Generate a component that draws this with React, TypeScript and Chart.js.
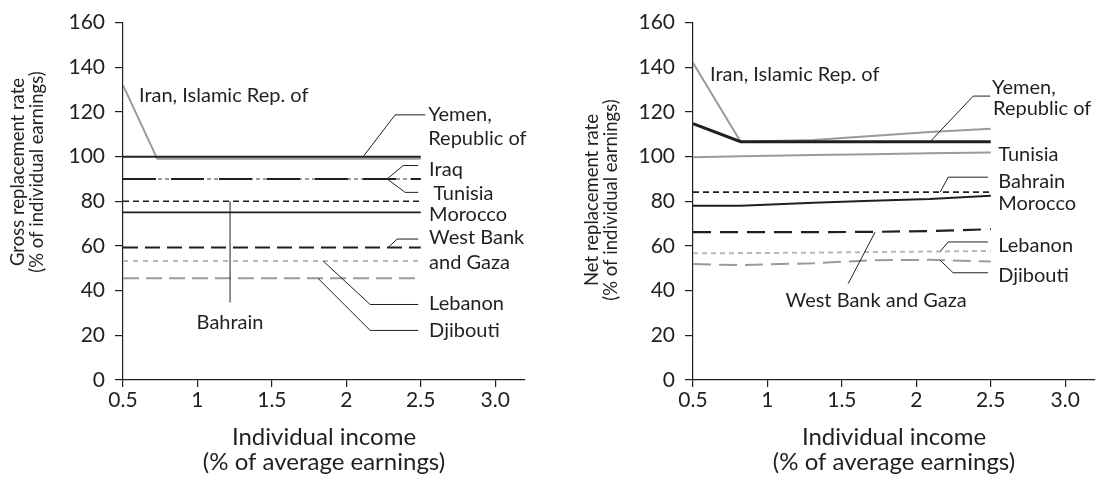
import React, { useEffect, useRef } from 'react';
import { Chart, registerables } from 'chart.js';

Chart.register(...registerables);

const FONT = 'Lato, "Open Sans", sans-serif';
const INK = '#231f20';
const GRAY = '#9a9a9a';
const LIGHT = '#b8b8b8';

// ---------- shared axis data ----------
const xTicks = [0.5, 1, 1.5, 2, 2.5, 3.0];
const xTickLabels = ['0.5', '1', '1.5', '2', '2.5', '3.0'];
const yTicks = [0, 20, 40, 60, 80, 100, 120, 140, 160];

// ---------- gross replacement rate (left) ----------
const grossIncome = [0.5, 0.73, 1, 1.5, 2, 2.5];
const grossIran = [132, 99, 99, 99, 99, 99];
const grossYemen = [100, 100, 100, 100, 100, 100];
const grossIraq = [90, 90, 90, 90, 90, 90];
const grossTunisia = [90, 90, 90, 90, 90, 90];
const grossBahrain = [80, 80, 80, 80, 80, 80];
const grossMorocco = [75, 75, 75, 75, 75, 75];
const grossWestBank = [59.3, 59.3, 59.3, 59.3, 59.3, 59.3];
const grossLebanon = [53.3, 53.3, 53.3, 53.3, 53.3, 53.3];
const grossDjibouti = [45.5, 45.5, 45.5, 45.5, 45.5, 45.5];

// ---------- net replacement rate (right) ----------
const netIncome = [0.5, 0.82, 1.31, 1.7, 2.09, 2.5];
const netIran = [142, 106.7, 107.4, 109.2, 111, 112.5];
const netYemen = [114.8, 106.7, 106.7, 106.7, 106.7, 106.7];
const netTunisia = [99.7, 100.2, 100.7, 101.1, 101.5, 101.9];
const netBahrain = [84.1, 84.1, 84.1, 84.1, 84.1, 84.1];
const netMorocco = [78, 78, 79.3, 80.3, 81, 82.5];
const netWestBank = [66.2, 66.2, 66.2, 66.3, 66.7, 67.5];
const netLebanon = [56.7, 56.8, 57, 57.3, 57.5, 57.8];
const netDjibouti = [51.9, 51.4, 52.3, 53.6, 53.8, 53];

type Series = { data: number[]; color: string; width: number; dash?: number[]; order?: number };
type Label = { text: string; x: number; y: number; align?: CanvasTextAlign };

const grossSeries: Series[] = [
  { data: grossYemen, color: INK, width: 2, order: 1 },
  { data: grossIran, color: GRAY, width: 2, order: 2 },
  { data: grossIraq, color: INK, width: 2, dash: [33, 15], order: 1 },
  { data: grossTunisia, color: GRAY, width: 2, dash: [4, 3], order: 2 },
  { data: grossBahrain, color: INK, width: 1.6, dash: [6, 4], order: 1 },
  { data: grossMorocco, color: INK, width: 1.8, order: 1 },
  { data: grossWestBank, color: INK, width: 2, dash: [15, 7], order: 1 },
  { data: grossLebanon, color: LIGHT, width: 2, dash: [5, 5], order: 2 },
  { data: grossDjibouti, color: GRAY, width: 2, dash: [16, 7], order: 2 },
];

const netSeries: Series[] = [
  { data: netYemen, color: INK, width: 3, order: 1 },
  { data: netIran, color: GRAY, width: 2, order: 2 },
  { data: netTunisia, color: GRAY, width: 2, order: 2 },
  { data: netBahrain, color: INK, width: 1.8, dash: [6, 4], order: 1 },
  { data: netMorocco, color: INK, width: 2, order: 1 },
  { data: netWestBank, color: INK, width: 2.2, dash: [18, 9], order: 1 },
  { data: netLebanon, color: LIGHT, width: 2, dash: [5, 4], order: 2 },
  { data: netDjibouti, color: GRAY, width: 2, dash: [18, 8], order: 2 },
];

// annotation labels & leaders, in data units
const grossLabels: Label[] = [
  { text: 'Iran, Islamic Rep. of', x: 0.607, y: 127.5 },
  { text: 'Yemen,', x: 2.55, y: 118.7 },
  { text: 'Republic of', x: 2.55, y: 108 },
  { text: 'Iraq', x: 2.556, y: 94.2 },
  { text: 'Tunisia', x: 2.583, y: 83.6 },
  { text: 'Morocco', x: 2.556, y: 74.2 },
  { text: 'West Bank', x: 2.556, y: 63.6 },
  { text: 'and Gaza', x: 2.556, y: 52.4 },
  { text: 'Lebanon', x: 2.556, y: 34.2 },
  { text: 'Djibouti', x: 2.556, y: 22.2 },
  { text: 'Bahrain', x: 1.219, y: 25.8, align: 'center' },
];
const grossLeaders: number[][][] = [
  [[2.113, 100], [2.328, 118.7], [2.53, 118.7]],
  [[2.274, 90], [2.382, 96], [2.483, 96]],
  [[2.274, 90], [2.395, 84], [2.483, 84]],
  [[2.281, 59.3], [2.341, 63.1], [2.483, 63.1]],
  [[1.844, 53.3], [2.16, 33.8], [2.483, 33.8]],
  [[1.81, 45.5], [2.16, 22.2], [2.483, 22.2]],
  [[1.219, 80], [1.219, 34.7]],
];

const netLabels: Label[] = [
  { text: 'Iran, Islamic Rep. of', x: 0.614, y: 136.6 },
  { text: 'Yemen,', x: 2.509, y: 131.1 },
  { text: 'Republic of', x: 2.515, y: 121.3 },
  { text: 'Tunisia', x: 2.55, y: 100.9 },
  { text: 'Bahrain', x: 2.55, y: 88.9 },
  { text: 'Morocco', x: 2.55, y: 79.2 },
  { text: 'Lebanon', x: 2.55, y: 60 },
  { text: 'Djibouti', x: 2.55, y: 46.7 },
  { text: 'West Bank and Gaza', x: 1.73, y: 35.6, align: 'center' },
];
const netLeaders: number[][][] = [
  [[2.093, 106.7], [2.382, 127.1], [2.496, 127.1]],
  [[2.16, 84.1], [2.214, 90.8], [2.482, 90.8]],
  [[2.16, 57.5], [2.214, 61.8], [2.482, 61.8]],
  [[2.16, 53.6], [2.247, 48], [2.482, 48]],
  [[1.723, 66.2], [1.542, 43.1]],
];

const yTitleGross = ['Gross replacement rate', '(% of individual earnings)'];
const yTitleNet = ['Net replacement rate', '(% of individual earnings)'];
const xTitle = ['Individual income', '(% of average earnings)'];

type PanelProps = {
  left: number;
  width: number;
  axisLeft: number;
  income: number[];
  series: Series[];
  labels: Label[];
  leaders: number[][][];
  yTitle: string[];
  yTitleX: number[];
  yTitleCY: number;
};

function Panel(p: PanelProps) {
  const ref = useRef<HTMLCanvasElement>(null);
  useEffect(() => {
    if (!ref.current) return;
    const plotRight = p.axisLeft + 402;
    const annot = {
      id: 'annot',
      afterDraw(chart: any) {
        const { ctx, chartArea } = chart;
        const xs = chart.scales.x;
        const ys = chart.scales.y;
        ctx.save();
        ctx.strokeStyle = INK;
        ctx.lineWidth = 1;
        ctx.setLineDash([]);
        p.leaders.forEach((pts) => {
          ctx.beginPath();
          pts.forEach(([vx, vy], i) => {
            const px = xs.getPixelForValue(vx);
            const py = ys.getPixelForValue(vy);
            if (i === 0) ctx.moveTo(px, py);
            else ctx.lineTo(px, py);
          });
          ctx.stroke();
        });
        ctx.fillStyle = INK;
        ctx.font = `20px ${FONT}`;
        ctx.textBaseline = 'middle';
        p.labels.forEach((l) => {
          ctx.textAlign = l.align || 'left';
          ctx.fillText(l.text, xs.getPixelForValue(l.x), ys.getPixelForValue(l.y));
        });
        // y title
        ctx.font = `18.5px ${FONT}`;
        ctx.textAlign = 'center';
        p.yTitle.forEach((t, i) => {
          ctx.save();
          ctx.translate(p.yTitleX[i], p.yTitleCY);
          ctx.rotate(-Math.PI / 2);
          ctx.fillText(t, 0, 0);
          ctx.restore();
        });
        // x title
        ctx.font = `24px ${FONT}`;
        const cx = (chartArea.left + chartArea.right) / 2;
        ctx.fillText(xTitle[0], cx, chartArea.bottom + 57);
        ctx.fillText(xTitle[1], cx, chartArea.bottom + 82);
        ctx.restore();
      },
    };
    const chart = new Chart(ref.current, {
      type: 'line',
      data: {
        datasets: p.series.map((s) => ({
          data: p.income.map((x, i) => ({ x, y: s.data[i] })),
          borderColor: s.color,
          borderWidth: s.width,
          borderDash: s.dash || [],
          pointRadius: 0,
          fill: false,
          tension: 0,
          order: s.order || 1,
        })),
      },
      options: {
        responsive: false,
        animation: false,
        layout: { padding: { left: 0, top: 20, right: p.width - plotRight, bottom: 0 } },
        plugins: { legend: { display: false }, tooltip: { enabled: false } },
        scales: {
          x: {
            type: 'linear',
            min: 0.5,
            max: 3.2,
            afterBuildTicks: (s: any) => {
              s.ticks = xTicks.map((v) => ({ value: v }));
            },
            afterFit: (s: any) => {
              s.height = 97;
            },
            ticks: {
              autoSkip: false,
              maxRotation: 0,
              padding: 1,
              color: INK,
              font: { family: FONT, size: 21 },
              callback: (v: any) => xTickLabels[xTicks.indexOf(Number(v))] ?? '',
            },
            grid: { display: true, drawOnChartArea: false, drawTicks: true, tickLength: 7, color: INK, lineWidth: 1.2 },
            border: { display: true, color: INK, width: 1.2 },
          },
          y: {
            type: 'linear',
            min: 0,
            max: 160,
            afterBuildTicks: (s: any) => {
              s.ticks = yTicks.map((v) => ({ value: v }));
            },
            afterFit: (s: any) => {
              s.width = p.axisLeft;
            },
            ticks: {
              padding: 10,
              color: INK,
              font: { family: FONT, size: 21 },
            },
            grid: { display: true, drawOnChartArea: false, drawTicks: true, tickLength: 8, color: INK, lineWidth: 1.2 },
            border: { display: true, color: INK, width: 1.2 },
          },
        },
      },
      plugins: [annot],
    } as any);
    return () => chart.destroy();
  }, []);
  return (
    <canvas
      ref={ref}
      width={p.width}
      height={477}
      style={{ position: 'absolute', left: p.left, top: 0, width: p.width, height: 477 }}
    />
  );
}

export default function App() {
  return (
    <div style={{ position: 'fixed', left: 0, top: 0, width: 1105, height: 477, background: '#fff', overflow: 'hidden' }}>
      <Panel
        left={0}
        width={560}
        axisLeft={123}
        income={grossIncome}
        series={grossSeries}
        labels={grossLabels}
        leaders={grossLeaders}
        yTitle={yTitleGross}
        yTitleX={[18, 37]}
        yTitleCY={172}
      />
      <Panel
        left={560}
        width={545}
        axisLeft={133}
        income={netIncome}
        series={netSeries}
        labels={netLabels}
        leaders={netLeaders}
        yTitle={yTitleNet}
        yTitleX={[32, 51]}
        yTitleCY={200}
      />
    </div>
  );
}
